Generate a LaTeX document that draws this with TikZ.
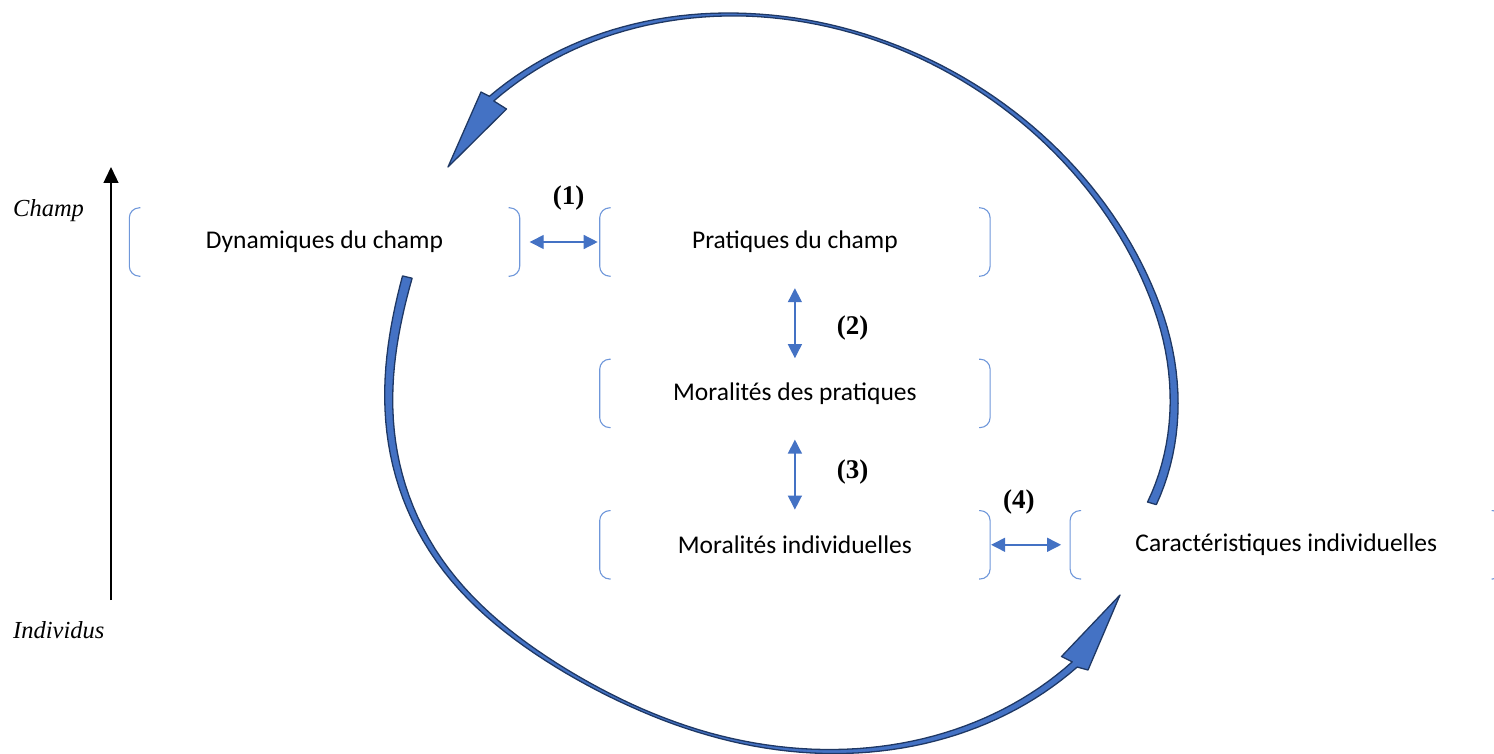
\documentclass[tikz,border=0pt]{standalone}
\usepackage{fontspec}
\setmainfont{Liberation Serif}
\setsansfont{Carlito}
\usetikzlibrary{positioning,arrows.meta}
\definecolor{bleu}{HTML}{4472C4}
\definecolor{marine}{HTML}{1F3864}
\definecolor{clair}{HTML}{6F97DA}

\begin{document}
\begin{tikzpicture}[x=1pt, y=-1pt,
                    boite/.style={minimum width=390pt, minimum height=68pt, inner sep=0pt,
                                  font=\sffamily\fontsize{25.5}{30}\selectfont},
                    crochet/.style={clair, line width=1.1pt, rounded corners=10pt},
                    lien/.style={bleu, line width=1.4pt, >={Triangle[length=14pt,width=14pt]}, <->},
                    num/.style={text=black, font=\bfseries\fontsize{27}{30}\selectfont},
                    axe/.style={font=\itshape\fontsize{24.5}{28}\selectfont, inner sep=0pt},
                    fleche/.style={draw=marine, fill=bleu, line width=1.3pt, line join=round},
                    declare function={
                      ex(\t,\ra,\rb)=781.5+\ra*cos(\t)*0.8695-\rb*sin(\t)*0.4939;
                      ey(\t,\ra,\rb)=383+\ra*cos(\t)*0.4939+\rb*sin(\t)*0.8695;
                      fh(\t)=1-0.045*max(0,(\t+45)/31.6)*max(0,(\t+45)/31.6);
                      hh(\t)=1.3+max(0,\t+100)*0.0381+max(0,-120-\t)*0.0443;
                      fb(\t)=1+ifthenelse(\t>=120,0.047*cos(3.6*(\t-120)),0.047*exp(-((\t-120)/22)*((\t-120)/22)));
                      hb(\t)=1.3+max(0,\t-85)*0.046+max(0,75-\t)*0.0393;}]
  \useasboundingbox (0,0) rectangle (1494,754);
  % boxes
  \node[boite] (dyn) at (324.5,242) {Dynamiques du champ};
  \node[boite, right=80pt of dyn] (prat) {Pratiques du champ};
  \node[boite, below=83pt of prat] (morp) {Moralités des pratiques};
  \node[boite, below=83pt of morp] (mori) {Moralités individuelles};
  \node[boite, right=80pt of mori, minimum width=432pt] (car) {Caractéristiques individuelles};
  \foreach \b in {dyn,prat,morp,mori,car} {
    \draw[crochet] ([xshift=11pt]\b.north west) -- (\b.north west) -- (\b.south west) -- ([xshift=11pt]\b.south west);
    \draw[crochet] ([xshift=-11pt]\b.north east) -- (\b.north east) -- (\b.south east) -- ([xshift=-11pt]\b.south east);
  }
  % links
  \draw[lien, shorten <=10pt, shorten >=2pt] (dyn) -- (prat) node[num, pos=0.61, above=28pt] (n1) {(1)};
  \draw[lien, shorten <=12pt, shorten >=1pt] (prat) -- (morp) node[num, pos=0.63, right=38pt] (n2) {(2)};
  \draw[lien, shorten <=12pt, shorten >=1pt] (morp) -- (mori) node[num, pos=0.53, right=38pt] (n3) {(3)};
  \draw[lien, shorten <=1pt, shorten >=9pt] (mori) -- (car) node[num, pos=0.36, above=27pt] (n4) {(4)};
  % axis
  \coordinate (bas) at (111,600);
  \coordinate (haut) at (111,167);
  \draw[line width=1.3pt, -{Triangle[length=16pt,width=15pt]}] (bas) -- (haut);
  \node[axe, anchor=west] (champ) at (13,211) {Champ};
  \node[axe, anchor=west] (indiv) at (13,630) {Individus};
  % cycle arrows
  \filldraw[fleche]
    plot[domain=13.4:162.9, samples=90, variable=\s]
      ({ex(-\s,410.7*fh(-\s)+hh(-\s),353.9*fh(-\s)+hh(-\s))}, {ey(-\s,410.7*fh(-\s)+hh(-\s),353.9*fh(-\s)+hh(-\s))})
    -- (481,92) -- (448,167) -- (506.5,109)
    -- plot[domain=-162.9:-13.4, samples=90, variable=\t]
      ({ex(\t,410.7*fh(\t)-hh(\t),353.9*fh(\t)-hh(\t))}, {ey(\t,410.7*fh(\t)-hh(\t),353.9*fh(\t)-hh(\t))})
    -- cycle;
  \filldraw[fleche]
    plot[domain=-164.1:-16.4, samples=90, variable=\s]
      ({ex(-\s,410.7*fb(-\s)+hb(-\s),353.9*fb(-\s)+hb(-\s))}, {ey(-\s,410.7*fb(-\s)+hb(-\s),353.9*fb(-\s)+hb(-\s))})
    -- (1088,670) -- (1120,595) -- (1061.5,656.5)
    -- plot[domain=16.4:164.1, samples=90, variable=\t]
      ({ex(\t,410.7*fb(\t)-hb(\t),353.9*fb(\t)-hb(\t))}, {ey(\t,410.7*fb(\t)-hb(\t),353.9*fb(\t)-hb(\t))})
    -- cycle;
\end{tikzpicture}
\end{document}
